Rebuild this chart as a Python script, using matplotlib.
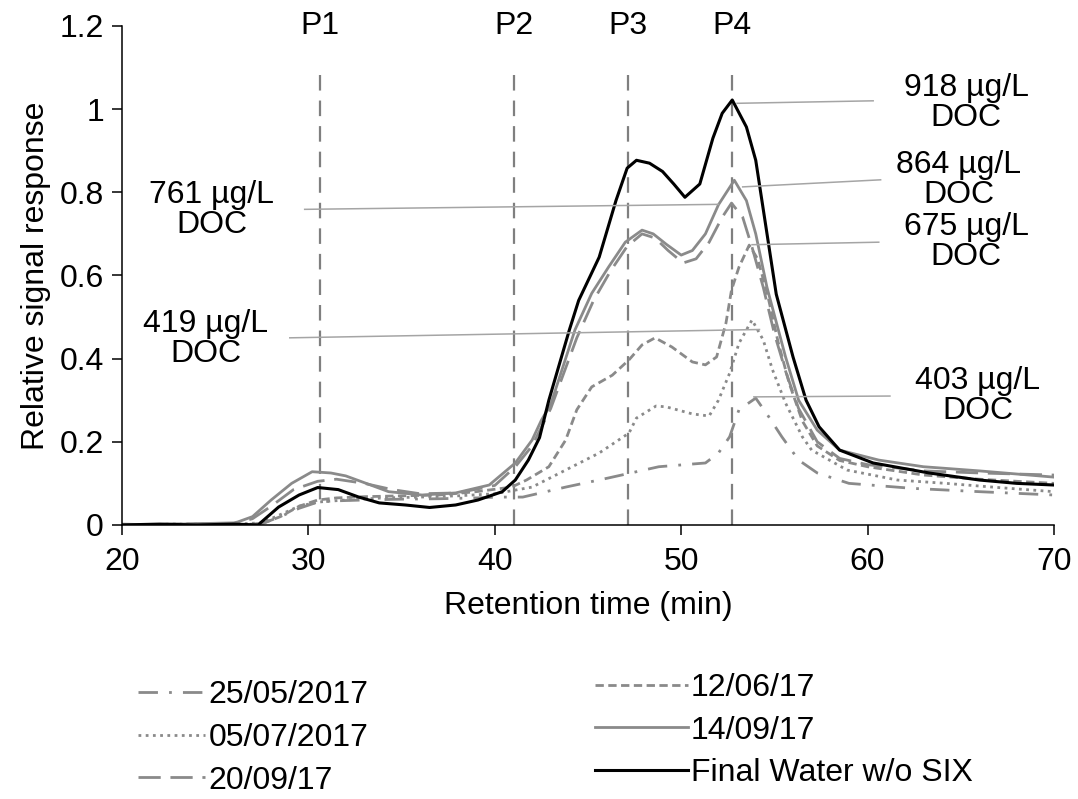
import matplotlib
matplotlib.use("Agg")
import matplotlib.pyplot as plt

plt.rcParams['font.family'] = ['Liberation Sans', 'DejaVu Sans']

# --- data ---
t_final = [20, 22, 24, 26, 27.3, 28.4, 29.5, 30.5, 31.6, 32.7, 33.8, 35.2, 36.5, 37.9, 39.1,
           40.4, 41.1, 41.8, 42.4, 42.9, 44.0, 44.5, 45.6, 46.5, 47.1, 47.6, 48.3, 49.0, 49.6,
           50.2, 51.0, 51.7, 52.2, 52.74, 53.5, 54.0, 54.55, 55.1, 56.0, 56.7, 57.4, 58.5,
           60.3, 63.3, 66.0, 68.0, 70]
y_final = [0.0, 0.002, 0.0, 0.002, 0.0, 0.043, 0.072, 0.09, 0.085, 0.067, 0.053, 0.048, 0.042,
           0.048, 0.06, 0.08, 0.108, 0.156, 0.21, 0.30, 0.469, 0.54, 0.644, 0.78, 0.858, 0.877,
           0.87, 0.85, 0.82, 0.788, 0.82, 0.93, 0.99, 1.022, 0.957, 0.877, 0.716, 0.555, 0.404,
           0.30, 0.236, 0.18, 0.149, 0.125, 0.108, 0.10, 0.096]

t_1409 = [20, 22, 24, 26, 26.2, 27, 28, 29.1, 30.2, 31.2, 32, 33.1, 34.3, 36.1, 37.9, 39.7,
          41.1, 42.0, 42.5, 43.0, 44.3, 45.2, 46.1, 47.0, 47.9, 48.5, 49.2, 50.0, 50.6, 51.3,
          52.0, 52.85, 53.5, 54.0, 54.6, 55.6, 56.3, 57.3, 58.5, 60.6, 63, 66, 70]
y_1409 = [0.002, 0.0, 0.003, 0.005, 0.007, 0.02, 0.06, 0.10, 0.128, 0.125, 0.118, 0.10, 0.08,
          0.072, 0.077, 0.096, 0.149, 0.204, 0.252, 0.29, 0.469, 0.557, 0.62, 0.68, 0.709, 0.70,
          0.675, 0.649, 0.66, 0.70, 0.77, 0.829, 0.78, 0.70, 0.572, 0.404, 0.30, 0.228, 0.18,
          0.156, 0.14, 0.13, 0.115]

t_2009 = [20, 23, 26, 27, 28, 29.2, 30.5, 31.5, 33, 34.5, 36, 38, 40, 41.1, 42, 43, 44.4, 45.3,
          46.2, 47.1, 47.9, 48.6, 49.3, 50.1, 50.8, 51.5, 52.2, 52.7, 53.3, 53.8, 54.4, 55.0,
          55.6, 56.3, 57.3, 58.5, 60, 63, 66, 70]
y_2009 = [0.0, 0.002, 0.003, 0.015, 0.045, 0.085, 0.105, 0.11, 0.10, 0.085, 0.075, 0.077, 0.095,
          0.14, 0.19, 0.28, 0.45, 0.54, 0.61, 0.67, 0.70, 0.69, 0.66, 0.63, 0.64, 0.68, 0.74,
          0.774, 0.74, 0.668, 0.572, 0.46, 0.37, 0.28, 0.20, 0.16, 0.145, 0.13, 0.125, 0.12]

t_1206 = [20, 23, 26, 27.5, 28.5, 29.5, 30.5, 31.5, 33, 35, 37, 39, 40.9, 41.7, 42.9, 43.8, 44.4,
          45.2, 46.3, 47.2, 47.9, 48.6, 49.5, 50.6, 51.3, 51.9, 52.4, 52.7, 53.1, 53.65, 54.1,
          54.6, 55.2, 55.8, 56.5, 57.3, 58.5, 60, 63, 66, 70]
y_1206 = [0.0, 0.002, 0.0, 0.003, 0.02, 0.045, 0.06, 0.065, 0.068, 0.07, 0.072, 0.08, 0.091,
          0.108, 0.14, 0.204, 0.277, 0.332, 0.36, 0.397, 0.433, 0.45, 0.428, 0.392, 0.385, 0.404,
          0.485, 0.565, 0.62, 0.673, 0.64, 0.56, 0.44, 0.34, 0.25, 0.19, 0.155, 0.14, 0.12,
          0.11, 0.10]

t_0507 = [20, 23, 26, 27.5, 28.5, 29.5, 30.5, 32, 34, 36, 38, 40, 42.0, 43.8, 45.6, 47.2, 47.6,
          48.65, 49.2, 50.6, 51.5, 52.0, 52.6, 53.1, 53.8, 54.4, 54.9, 55.6, 56.5, 57.0, 58.9,
          61.6, 64.2, 67, 70]
y_0507 = [0.0, 0.002, 0.002, 0.005, 0.025, 0.045, 0.055, 0.06, 0.065, 0.067, 0.07, 0.075, 0.091,
          0.132, 0.173, 0.221, 0.257, 0.286, 0.284, 0.267, 0.262, 0.30, 0.365, 0.437, 0.493,
          0.445, 0.373, 0.293, 0.212, 0.18, 0.132, 0.108, 0.10, 0.09, 0.08]

t_2505 = [20, 23, 26, 27.5, 28.5, 29.5, 30.5, 31.5, 33, 35, 37, 39, 40.2, 41.5, 43.8, 46.1, 48.8,
          51.3, 52.0, 52.6, 53.1, 54.0, 54.7, 55.4, 56.3, 57.3, 59.0, 62.4, 66, 70]
y_2505 = [0.0, 0.002, 0.0, 0.003, 0.02, 0.04, 0.055, 0.058, 0.06, 0.062, 0.063, 0.065, 0.067,
          0.067, 0.091, 0.113, 0.14, 0.149, 0.173, 0.212, 0.277, 0.305, 0.26, 0.212, 0.156,
          0.125, 0.10, 0.088, 0.08, 0.072]

peak_names = ['P1', 'P2', 'P3', 'P4']
peak_times = [30.6, 41.05, 47.15, 52.7]

doc_labels = ['918 µg/L\nDOC', '864 µg/L\nDOC', '675 µg/L\nDOC',
              '761 µg/L\nDOC', '419 µg/L\nDOC', '403 µg/L\nDOC']
doc_text_xy = [(65.3, 1.014), (64.9, 0.829), (65.3, 0.68),
               (24.8, 0.757), (24.5, 0.446), (65.9, 0.311)]
doc_line_from = [(53.0, 1.014), (53.3, 0.813), (53.8, 0.674),
                 (29.8, 0.759), (29.0, 0.45), (53.9, 0.308)]
doc_line_to = [(60.3, 1.02), (60.7, 0.83), (60.6, 0.68),
               (52.0, 0.771), (54.2, 0.47), (61.2, 0.31)]

# %%
gray = '#8a8a8a'
fs = 23

fig = plt.figure(figsize=(10.78, 7.99), dpi=100)
ax = fig.add_axes([0.1132, 0.343, 0.8645, 0.6245])

l1, = ax.plot(t_2505, y_2505, color=gray, lw=2.0, linestyle=(0, (7, 4, 1, 4)), label='25/05/2017')
l2, = ax.plot(t_0507, y_0507, color=gray, lw=2.0, linestyle=(0, (1, 1.6)), label='05/07/2017')
l3, = ax.plot(t_2009, y_2009, color=gray, lw=2.0, linestyle=(0, (8, 3.5)), label='20/09/17')
l4, = ax.plot(t_1206, y_1206, color=gray, lw=2.0, linestyle=(0, (3, 1.6)), label='12/06/17')
l5, = ax.plot(t_1409, y_1409, color=gray, lw=2.0, label='14/09/17')
l6, = ax.plot(t_final, y_final, color='black', lw=2.2, label='Final Water w/o SIX')

for name, t in zip(peak_names, peak_times):
    ax.plot([t, t], [0, 1.105], color='#7f7f7f', lw=1.6, linestyle=(0, (7, 4.5)), zorder=1)
    ax.text(t, 1.2, name, ha='center', va='center', fontsize=fs, clip_on=False)

for lab, txy, p0, p1 in zip(doc_labels, doc_text_xy, doc_line_from, doc_line_to):
    ax.plot([p0[0], p1[0]], [p0[1], p1[1]], color='#a5a5a5', lw=1.1)
    ax.text(txy[0], txy[1], lab, ha='center', va='center', fontsize=fs,
            linespacing=1.0, multialignment='center')

ax.set_xlim(20, 70)
ax.set_ylim(0, 1.2)
ax.set_xticks([20, 30, 40, 50, 60, 70])
ax.set_yticks([0, 0.2, 0.4, 0.6, 0.8, 1.0, 1.2])
ax.set_yticklabels(['0', '0.2', '0.4', '0.6', '0.8', '1', '1.2'])
ax.tick_params(axis='both', direction='out', length=7, width=1.1, labelsize=fs)
ax.tick_params(axis='x', pad=9)
ax.tick_params(axis='y', pad=6)
ax.spines['top'].set_visible(False)
ax.spines['right'].set_visible(False)
ax.spines['left'].set_linewidth(1.1)
ax.spines['bottom'].set_linewidth(1.1)
ax.set_xlabel('Retention time (min)', fontsize=fs, labelpad=10)
ax.set_ylabel('Relative signal response', fontsize=fs, labelpad=6)

leg1 = fig.legend(handles=[l1, l2, l3], loc='upper left', bbox_to_anchor=(0.128, 0.149),
                  frameon=False, fontsize=fs, handlelength=2.1, handletextpad=0.1,
                  labelspacing=0.4, borderpad=0, borderaxespad=0)
leg2 = fig.legend(handles=[l4, l5, l6], loc='upper left', bbox_to_anchor=(0.552, 0.158),
                  frameon=False, fontsize=fs, handlelength=2.9, handletextpad=0.1,
                  labelspacing=0.4, borderpad=0, borderaxespad=0)

fig.savefig('out.png', dpi=100)
